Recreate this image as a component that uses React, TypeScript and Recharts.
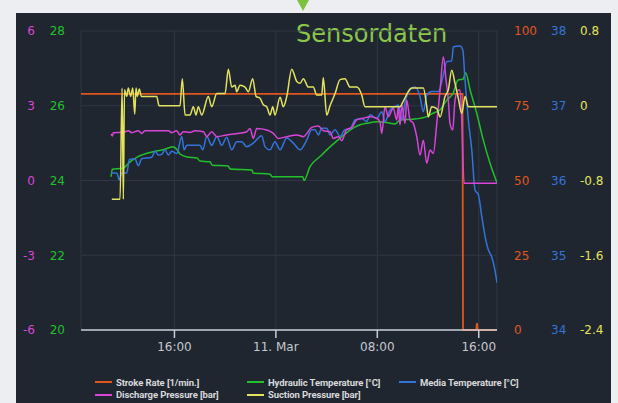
import { LineChart, Line, XAxis, YAxis, CartesianGrid, Legend } from "recharts";

type Pt = [number, number];

// time = hours since 10. Mar 00:00
const xDomain = [8.63, 41.44];
const xTicks = [16, 24, 32, 40];

const strokeRate: Pt[] = [
  [8.63, 79], [38.72, 79], [38.76, 0], [39.8, 0], [39.86, 2.3], [39.92, 0], [41.44, 0],
];

const hydraulicTemp: Pt[] = [
  [11.0, 24.1], [11.1, 24.3], [11.95, 24.33], [12.5, 24.5], [13.13, 24.64], [14.31, 24.77],
  [15.1, 24.82], [15.89, 24.9], [16.21, 24.82], [16.44, 24.71], [16.99, 24.63], [17.78, 24.6],
  [18.02, 24.52], [18.81, 24.5], [18.97, 24.41], [20.23, 24.39], [20.39, 24.31], [22.12, 24.28],
  [22.2, 24.2], [23.54, 24.17], [23.7, 24.1], [26.12, 24.1], [26.22, 24.0], [26.69, 24.37],
  [27.48, 24.64], [28.27, 24.9], [29.06, 25.13], [29.85, 25.35], [30.64, 25.49], [31.17, 25.53],
  [31.95, 25.57], [32.74, 25.55], [33.4, 25.51], [33.79, 25.62], [34.82, 25.64], [35.9, 25.71],
  [36.39, 25.8], [36.95, 25.89], [37.48, 26.15], [37.97, 26.33], [38.37, 26.69], [38.76, 26.71],
  [38.97, 26.88], [39.32, 26.42], [39.84, 25.8], [40.36, 25.08], [40.89, 24.46], [41.44, 23.94],
];

const mediaTemp: Pt[] = [
  [11.0, 36.1], [11.45, 36.1], [11.65, 36.01], [11.84, 36.1], [12.24, 36.1], [12.44, 36.28],
  [12.88, 36.29], [13.15, 36.2], [13.42, 36.29], [14.21, 36.31], [14.47, 36.39], [14.73, 36.34],
  [15.0, 36.35], [15.26, 36.41], [15.52, 36.34], [15.79, 36.39], [16.18, 36.36], [16.58, 36.59],
  [16.76, 36.41], [16.97, 36.47], [18.02, 36.47], [18.23, 36.41], [18.55, 36.59], [18.94, 36.47],
  [19.34, 36.59], [19.73, 36.47], [20.12, 36.58], [20.52, 36.41], [20.91, 36.52], [21.31, 36.52],
  [21.7, 36.45], [22.22, 36.5], [22.88, 36.6], [23.15, 36.45], [23.54, 36.41], [23.93, 36.52],
  [24.33, 36.41], [24.86, 36.57], [25.38, 36.5], [25.91, 36.41], [26.43, 36.54], [26.83, 36.68],
  [27.09, 36.68], [27.35, 36.61], [27.62, 36.7], [28.01, 36.7], [28.27, 36.61], [28.67, 36.68],
  [29.06, 36.59], [29.45, 36.68], [29.85, 36.69], [30.24, 36.81], [30.77, 36.83], [31.17, 36.79],
  [31.43, 36.88], [31.95, 36.83], [32.35, 36.92], [32.61, 36.79], [33.0, 36.94], [33.4, 36.99],
  [33.66, 37.01], [33.93, 36.81], [34.19, 37.05], [34.58, 37.21], [34.98, 37.25], [35.37, 37.12],
  [35.63, 36.92], [35.9, 37.14], [36.29, 37.19], [36.81, 37.19], [37.21, 37.41], [37.47, 37.59],
  [37.87, 37.6], [38.0, 37.79], [38.52, 37.8], [38.74, 37.75], [38.92, 37.34], [39.18, 36.81],
  [39.45, 36.41], [39.71, 35.87], [39.97, 35.81], [40.24, 35.52], [40.5, 35.25], [40.76, 35.07],
  [41.02, 34.98], [41.28, 34.8], [41.44, 34.63],
];

const dischargePressure: Pt[] = [
  [11.0, 1.87], [11.1, 1.79], [11.18, 1.92], [11.97, 1.93], [12.36, 2.0], [12.63, 1.92],
  [13.15, 2.0], [13.42, 1.89], [13.68, 2.0], [15.52, 2.0], [15.79, 1.92], [16.18, 2.0],
  [16.44, 1.83], [16.7, 1.96], [17.23, 1.93], [17.62, 2.0], [18.28, 1.96], [18.55, 1.76],
  [18.94, 1.96], [19.34, 1.76], [20.12, 1.83], [21.7, 1.96], [21.96, 2.09], [22.22, 1.69],
  [22.49, 2.09], [23.28, 2.03], [23.8, 1.89], [24.19, 1.69], [24.86, 1.76], [25.65, 1.83],
  [26.17, 1.76], [26.83, 2.13], [27.35, 2.19], [27.74, 2.0], [28.27, 1.96], [28.53, 1.69],
  [28.93, 1.76], [29.19, 1.6], [29.59, 2.05], [29.98, 2.13], [30.38, 2.43], [30.9, 2.5],
  [31.43, 2.56], [31.95, 2.5], [32.21, 2.36], [32.35, 1.89], [32.61, 2.96], [32.87, 2.56],
  [33.26, 2.9], [33.53, 2.43], [33.66, 2.96], [33.79, 2.23], [33.93, 3.03], [34.19, 2.29],
  [34.32, 3.23], [34.58, 2.43], [34.84, 2.29], [35.11, 1.76], [35.37, 1.02], [35.63, 1.62],
  [35.9, 0.69], [36.16, 1.22], [36.42, 1.09], [36.69, 2.29], [36.95, 3.63], [37.21, 4.97],
  [37.42, 4.03], [37.6, 3.23], [37.73, 2.29], [37.95, 2.03], [38.13, 3.23], [38.39, 3.63],
  [38.52, 3.63], [38.66, 2.43], [38.84, -0.11], [41.44, -0.11],
];

const suctionPressure: Pt[] = [
  [11.06, -1.0], [11.71, -1.0], [11.87, 0.19], [11.97, -1.0], [12.06, 0.17], [12.24, 0.1],
  [12.36, 0.19], [12.55, 0.1], [12.71, 0.19], [12.87, -0.09], [12.97, 0.19], [13.07, 0.1],
  [13.23, 0.18], [13.39, 0.1], [14.6, 0.1], [14.79, 0.0], [16.44, 0.0], [16.62, 0.29],
  [16.84, -0.1], [17.23, -0.1], [17.49, -0.01], [17.7, -0.1], [17.88, -0.01], [18.15, -0.1],
  [18.67, 0.1], [18.94, -0.01], [19.34, 0.13], [19.99, 0.13], [20.25, 0.39], [20.52, 0.2],
  [20.78, 0.22], [20.91, 0.15], [21.17, 0.22], [21.57, 0.2], [21.83, 0.15], [22.17, 0.29],
  [22.44, 0.1], [22.75, 0.08], [23.01, 0.01], [23.28, -0.01], [23.54, -0.1], [23.75, -0.01],
  [23.93, -0.1], [24.33, 0.09], [24.59, -0.01], [24.86, 0.1], [25.25, 0.39], [25.65, 0.26],
  [25.91, 0.24], [26.17, 0.29], [26.56, 0.2], [26.95, 0.2], [27.22, 0.115], [27.62, 0.115],
  [27.74, 0.3], [28.01, -0.1], [28.27, 0.0], [28.67, 0.13], [29.06, 0.28], [29.45, 0.29],
  [29.85, 0.2], [30.38, 0.2], [30.77, 0.115], [31.03, -0.01], [33.79, -0.01], [34.05, 0.05],
  [34.71, 0.19], [35.63, 0.19], [35.9, -0.01], [36.02, -0.12], [36.29, -0.01], [36.69, -0.03],
  [36.95, -0.12], [37.34, 0.1], [37.6, 0.17], [37.87, 0.38], [38.13, 0.24], [38.39, 0.08],
  [38.66, -0.08], [38.92, 0.1], [39.18, -0.01], [41.44, -0.01],
];

const dischargeTicks = [-6, -3, 0, 3, 6];
const hydraulicTicks = [20, 22, 24, 26, 28];
const strokeTicks = [0, 25, 50, 75, 100];
const mediaTicks = [34, 35, 36, 37, 38];
const suctionTicks = [-2.4, -1.6, -0.8, 0, 0.8];

const legendOrder = [
  "Stroke Rate [1/min.]",
  "Hydraulic Temperature [°C]",
  "Media Temperature [°C]",
  "Discharge Pressure [bar]",
  "Suction Pressure [bar]",
];

const C = {
  stroke: "#e0561d",
  hyd: "#22c02a",
  media: "#3274d9",
  dis: "#d845d8",
  suc: "#e4e35e",
};

const rows = (pts: Pt[]) => pts.map(([t, v]) => ({ t, v }));

const fmtTime = (h: number) => {
  if (h % 24 === 0) return `${10 + h / 24}. Mar`;
  return `${String(h % 24).padStart(2, "0")}:00`;
};

function SensorLegend({ payload }: any) {
  const items = [...(payload || [])].sort(
    (a: any, b: any) => legendOrder.indexOf(a.value) - legendOrder.indexOf(b.value)
  );
  return (
    <div
      style={{
        display: "flex",
        flexWrap: "wrap",
        width: 456,
        fontFamily: "Roboto, sans-serif",
        fontWeight: 700,
        fontSize: 9.5,
        letterSpacing: -0.1,
        color: "#d8d9da",
      }}
    >
      {items.map((p: any) => (
        <div key={p.value} style={{ display: "flex", alignItems: "center", width: 152, height: 12.5, whiteSpace: "nowrap" }}>
          <span style={{ display: "inline-block", width: 17, height: 2, background: p.color, marginRight: 4, flexShrink: 0 }} />
          <span>{p.value}</span>
        </div>
      ))}
    </div>
  );
}

const tickFont = { fontSize: 12, fontFamily: "DejaVu Sans" };

export default function App() {
  return (
    <div style={{ position: "absolute", left: 0, top: 0, width: 618, height: 403, background: "#eceef1", overflow: "hidden" }}>
      <div style={{ position: "absolute", left: 16, top: 13, width: 595, height: 400, background: "#1f2630" }} />
      <div
        style={{
          position: "absolute", left: 297, top: 0, width: 0, height: 0,
          borderLeft: "6px solid transparent", borderRight: "6px solid transparent", borderTop: "11px solid #7dc13c",
        }}
      />
      <div
        style={{
          position: "absolute", left: 296, top: 22, fontFamily: "DejaVu Sans", fontSize: 24,
          lineHeight: "24px", color: "#8cc64a", whiteSpace: "nowrap",
        }}
      >
        Sensordaten
      </div>
      <div style={{ position: "absolute", left: 0, top: 0 }}>
        <LineChart width={618} height={403} margin={{ top: 31, right: 15, bottom: 43, left: 11 }}>
          <CartesianGrid yAxisId="y1" stroke="#2f3742" strokeWidth={1} />
          <XAxis
            dataKey="t"
            type="number"
            domain={xDomain}
            ticks={xTicks}
            allowDataOverflow
            tickFormatter={fmtTime}
            height={30}
            axisLine={{ stroke: "#c8ced6", strokeWidth: 1.5 }}
            tickLine={{ stroke: "#c8ced6", strokeWidth: 1.5 }}
            tickSize={8}
            tickMargin={4}
            tick={{ ...tickFont, fill: "#c5c8cc" }}
          />
          {/* hydraulic temperature, inner left */}
          <YAxis yAxisId="y1" orientation="left" width={30} domain={[20, 28]} ticks={hydraulicTicks}
            axisLine={false} tickLine={false} tickSize={0} tickMargin={16} tick={{ ...tickFont, fill: C.hyd }} />
          {/* discharge pressure, outer left */}
          <YAxis yAxisId="y2" orientation="left" width={40} domain={[-6, 6]} ticks={dischargeTicks}
            axisLine={false} tickLine={false} tickSize={0} tickMargin={16} tick={{ ...tickFont, fill: C.dis }} />
          {/* stroke rate, inner right */}
          <YAxis yAxisId="y3" orientation="right" width={37} domain={[0, 100]} ticks={strokeTicks}
            axisLine={false} tickLine={false} tickSize={0} tickMargin={17} tick={{ ...tickFont, fill: C.stroke }} />
          {/* media temperature */}
          <YAxis yAxisId="y4" orientation="right" width={29} domain={[34, 38]} ticks={mediaTicks}
            axisLine={false} tickLine={false} tickSize={0} tickMargin={17} tick={{ ...tickFont, fill: C.media }} />
          {/* suction pressure, outer right */}
          <YAxis yAxisId="y5" orientation="right" width={40} domain={[-2.4, 0.8]} ticks={suctionTicks}
            axisLine={false} tickLine={false} tickSize={0} tickMargin={17} tick={{ ...tickFont, fill: C.suc }} />
          <Legend
            layout="horizontal"
            verticalAlign="middle"
            align="center"
            wrapperStyle={{ top: 376, left: 95, width: 470 }}
            content={<SensorLegend />}
          />
          <Line yAxisId="y3" data={rows(strokeRate)} dataKey="v" name="Stroke Rate [1/min.]" type="linear"
            stroke={C.stroke} strokeWidth={1.8} dot={false} activeDot={false} isAnimationActive={false} />
          <Line yAxisId="y1" data={rows(hydraulicTemp)} dataKey="v" name="Hydraulic Temperature [°C]" type="monotone"
            stroke={C.hyd} strokeWidth={1.5} dot={false} activeDot={false} isAnimationActive={false} />
          <Line yAxisId="y4" data={rows(mediaTemp)} dataKey="v" name="Media Temperature [°C]" type="monotone"
            stroke={C.media} strokeWidth={1.5} dot={false} activeDot={false} isAnimationActive={false} />
          <Line yAxisId="y2" data={rows(dischargePressure)} dataKey="v" name="Discharge Pressure [bar]" type="monotone"
            stroke={C.dis} strokeWidth={1.5} dot={false} activeDot={false} isAnimationActive={false} />
          <Line yAxisId="y5" data={rows(suctionPressure)} dataKey="v" name="Suction Pressure [bar]" type="monotone"
            stroke={C.suc} strokeWidth={1.5} dot={false} activeDot={false} isAnimationActive={false} />
        </LineChart>
      </div>
    </div>
  );
}
